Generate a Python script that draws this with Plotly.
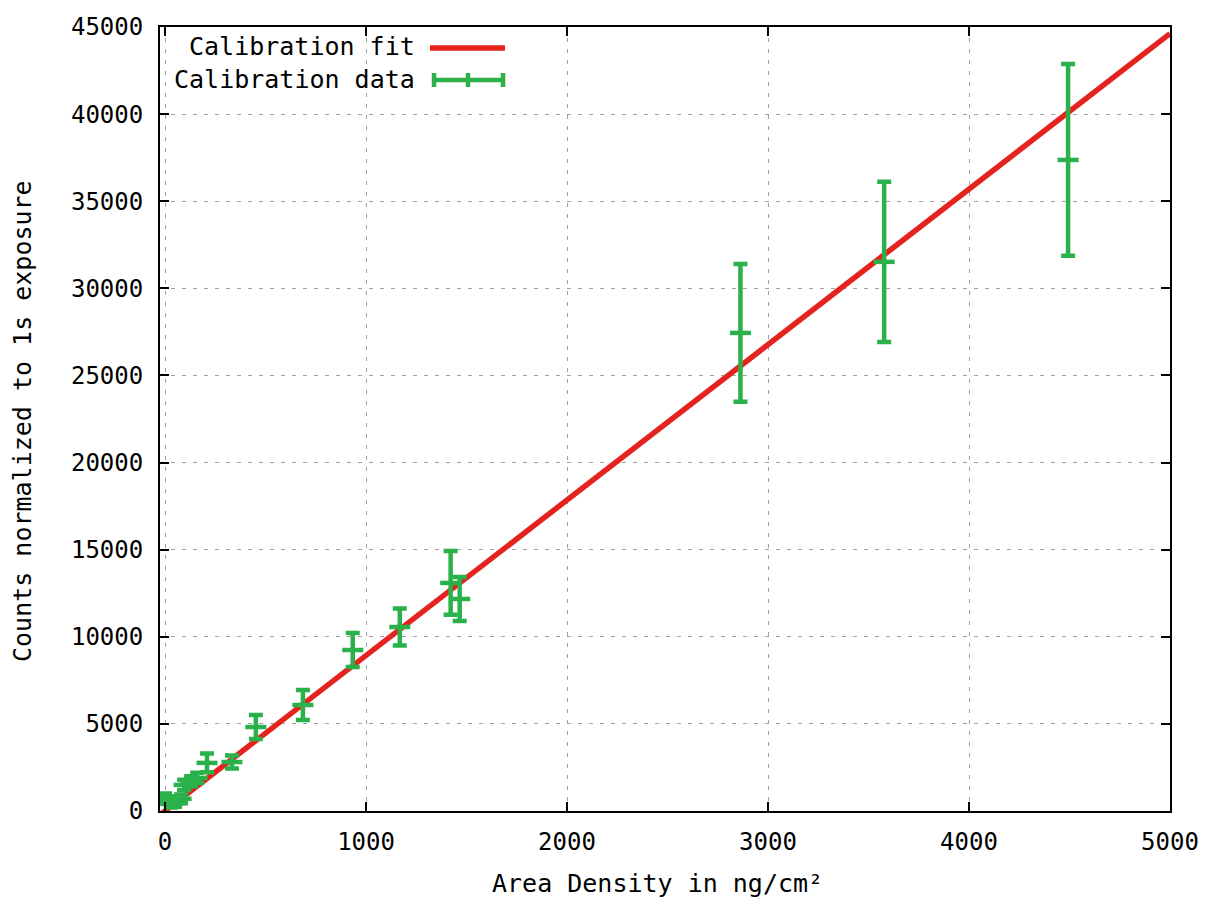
import plotly.graph_objects as go

# Calibration data (area density ng/cm^2, counts normalized to 1 s exposure, error)
data_x = [-15, 0, 15, 30, 50, 80, 95, 130, 160, 209, 333, 452, 686, 934, 1168, 1421, 1466, 2863, 3578, 4493]
data_y = [700, 800, 650, 400, 450, 700, 1500, 1700, 1900, 2760, 2810, 4820, 6085, 9240, 10560, 13090, 12170, 27440, 31520, 37370]
data_err = [250, 200, 200, 200, 200, 250, 300, 300, 300, 540, 370, 690, 865, 975, 1060, 1830, 1260, 3950, 4600, 5500]

# Calibration fit (straight line end points)
fit_x = [-25, 5000]
fit_y = [-220, 44620]

x_ticks = [0, 1000, 2000, 3000, 4000, 5000]
y_ticks = [0, 5000, 10000, 15000, 20000, 25000, 30000, 35000, 40000, 45000]

RED = "#e5231e"
GREEN = "#2bb14a"
FONT = "DejaVu Sans Mono"

fig = go.Figure()

fig.add_trace(go.Scatter(
    x=fit_x, y=fit_y, mode="lines",
    line=dict(color=RED, width=5.5),
    name="Calibration fit", showlegend=False,
))

fig.add_trace(go.Scatter(
    x=data_x, y=data_y, mode="markers",
    marker=dict(symbol="line-ew", size=15, color=GREEN,
                line=dict(color=GREEN, width=4.5)),
    error_y=dict(type="data", array=data_err, visible=True,
                 color=GREEN, thickness=4.5, width=7),
    name="Calibration data", showlegend=False,
))

# gnuplot-style legend (text on the left, sample on the right)
px_w, px_h = 1010.0, 784.0
def px(xp):
    return (xp - 160) / px_w
def py(yp):
    return (811 - yp) / px_h

annotations = [
    dict(text="Calibration fit", x=px(417), y=py(47), xref="paper", yref="paper",
         xanchor="right", yanchor="middle", showarrow=False,
         font=dict(family=FONT, size=25, color="black")),
    dict(text="Calibration data", x=px(417), y=py(80), xref="paper", yref="paper",
         xanchor="right", yanchor="middle", showarrow=False,
         font=dict(family=FONT, size=25, color="black")),
    # axis titles
    dict(text="Area Density in ng/cm²", x=px(657), y=py(884), xref="paper", yref="paper",
         xanchor="center", yanchor="middle", showarrow=False,
         font=dict(family=FONT, size=25, color="black")),
    dict(text="Counts normalized to 1s exposure", x=px(22), y=py(421), xref="paper", yref="paper",
         xanchor="center", yanchor="middle", showarrow=False, textangle=-90,
         font=dict(family=FONT, size=25, color="black")),
]
shapes = [
    dict(type="line", xref="paper", yref="paper", x0=px(430), x1=px(505), y0=py(48), y1=py(48),
         line=dict(color=RED, width=5.5)),
    dict(type="line", xref="paper", yref="paper", x0=px(434), x1=px(503), y0=py(80), y1=py(80),
         line=dict(color=GREEN, width=4.5)),
]
for cx in (434, 468, 503):
    shapes.append(dict(type="line", xref="paper", yref="paper", x0=px(cx), x1=px(cx),
                       y0=py(73), y1=py(87), line=dict(color=GREEN, width=4.5)))

axis_common = dict(
    showline=True, linecolor="black", linewidth=2, mirror="ticks",
    ticks="inside", ticklen=9, tickwidth=1.5, tickcolor="black",
    showgrid=True, gridcolor="#a0a0a0", gridwidth=1.3, griddash="4px,7px",
    zeroline=False, automargin=False,
    tickfont=dict(family=FONT, size=24, color="black"),
)

fig.update_layout(
    width=1208, height=899,
    margin=dict(l=160, r=38, t=27, b=88),
    paper_bgcolor="white", plot_bgcolor="white",
    showlegend=False,
    annotations=annotations,
    shapes=shapes,
    xaxis=dict(
        range=[-25, 5000], tickvals=x_ticks, ticktext=[str(v) for v in x_ticks],
        ticklabelstandoff=8,
        **axis_common,
    ),
    yaxis=dict(
        range=[0, 45000], tickvals=y_ticks, ticktext=[str(v) for v in y_ticks],
        ticklabelstandoff=10,
        **axis_common,
    ),
)

fig.write_html("out.html")
